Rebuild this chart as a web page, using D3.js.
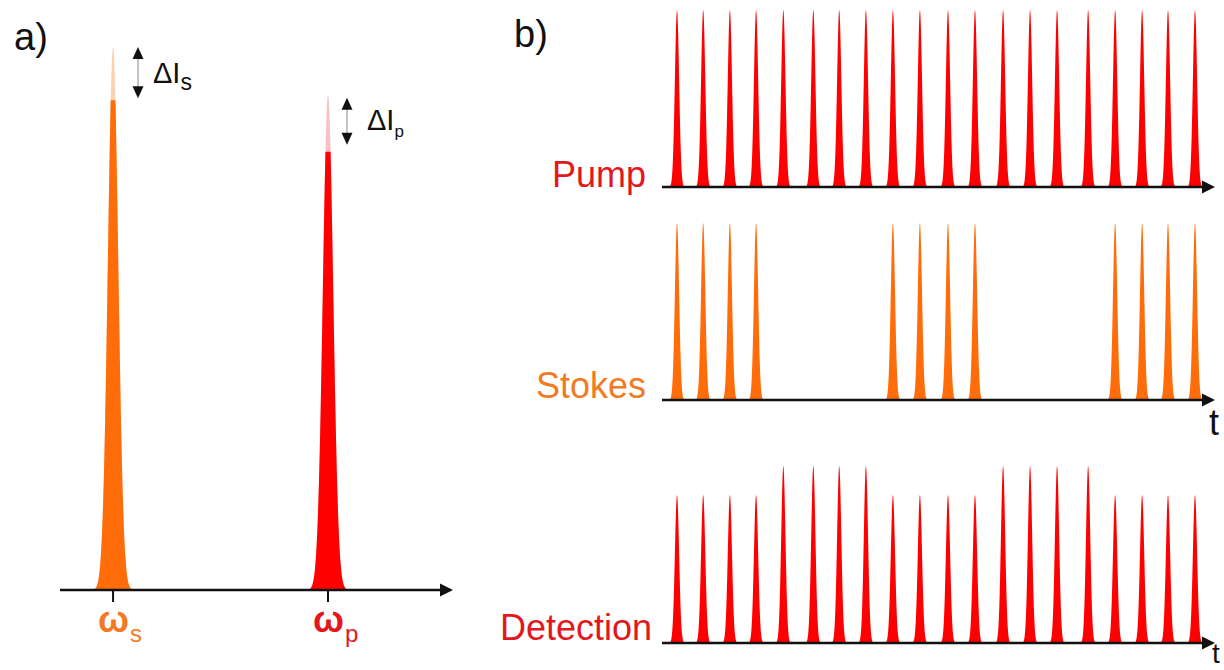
<!DOCTYPE html>
<html>
<head>
<meta charset="utf-8">
<script src="https://cdn.jsdelivr.net/npm/d3@7"></script>
<style>
  body { margin: 0; background: #fff; }
  svg { display: block; }
  text { font-family: Arial, "Liberation Sans", sans-serif; }
</style>
</head>
<body>
<svg id="chart" width="1224" height="670"></svg>
<script>
// ---------- Panel a: spectral lines (frequency domain) ----------
const lineKeys   = ["s", "p"];              // Stokes, pump
const lineFreqs  = [13.5, 68.2];            // ω_s, ω_p (arb. units)
const lineTotal  = [1.0, 0.912];            // peak intensity including ΔI
const lineSolid  = [0.902, 0.807];          // intensity without ΔI

// ---------- Panel b: pulse trains (time domain) ----------
const pulseTimes = [0, 0.96, 1.94, 2.9, 3.9, 5.0, 5.95, 6.93, 7.92, 8.91,
                    9.94, 10.93, 11.96, 12.95, 13.94, 15.08, 16.07, 17.06, 18.01, 19.0];
const pumpAmp    = [1,1,1,1, 1,1,1,1, 1,1,1,1, 1,1,1,1, 1,1,1,1];
const stokesAmp  = [1,1,1,1, 0,0,0,0, 1,1,1,1, 0,0,0,0, 1,1,1,1];
const detectAmp  = [0.836,0.836,0.836,0.836, 1,1,1,1, 0.836,0.836,0.836,0.836,
                    1,1,1,1, 0.836,0.836,0.836,0.836];
const rowLabels  = ["Pump", "Stokes", "Detection"];

const RED = "#ff0000", ORANGE = "#ff6c0a";
const RED_TXT = "#e3171d", ORANGE_TXT = "#f27a22";

const svg = d3.select("#chart");
svg.append("rect").attr("width", 1224).attr("height", 670).attr("fill", "#fff");

// Gaussian line profile drawn around a centre pixel
function profile(cx, amp, w, half, yScale) {
  const pts = d3.range(-half, half + 0.001, 0.25).map(dx => [cx + dx, amp * Math.exp(-(dx / w) * (dx / w))]);
  return d3.area().x(d => d[0]).y0(yScale(0)).y1(d => yScale(d[1]))(pts);
}

function arrowAxis(g, x0, x1, y) {
  g.append("line").attr("x1", x0).attr("x2", x1 - 10).attr("y1", y).attr("y2", y)
    .attr("stroke", "#111").attr("stroke-width", 2.5);
  g.append("path").attr("d", `M${x1},${y} L${x1 - 13},${y - 6.5} L${x1 - 13},${y + 6.5} Z`).attr("fill", "#111");
}

// ---------- panel a ----------
const ga = svg.append("g");
const xa = d3.scaleLinear().domain([0, 100]).range([60, 453]);
const ya = d3.scaleLinear().domain([0, 1]).range([590, 47]);

lineKeys.forEach((k, i) => {
  const cx = xa(lineFreqs[i]);
  const col = k === "s" ? ORANGE : RED;
  const faint = k === "s" ? "#fbd2b4" : "#f8c0c2";
  const d = profile(cx, lineTotal[i], 7.35, 24, ya);
  ga.append("path").attr("d", d).attr("fill", faint);
  const clipId = "clip-" + k;
  ga.append("clipPath").attr("id", clipId).append("rect")
    .attr("x", cx - 30).attr("width", 60)
    .attr("y", ya(lineSolid[i])).attr("height", ya(0) - ya(lineSolid[i]) + 2);
  ga.append("path").attr("d", d).attr("fill", col).attr("clip-path", `url(#${clipId})`);
});

arrowAxis(ga, 60, 453, 590);
lineKeys.forEach((k, i) => {
  const cx = xa(lineFreqs[i]);
  ga.append("line").attr("x1", cx).attr("x2", cx).attr("y1", 590).attr("y2", 602)
    .attr("stroke", "#111").attr("stroke-width", 2);
  const t = ga.append("text").attr("x", cx - 15).attr("y", 632)
    .attr("fill", k === "s" ? ORANGE_TXT : RED_TXT).attr("font-size", 36);
  t.append("tspan").attr("textLength", 31).attr("lengthAdjust", "spacingAndGlyphs")
    .attr("font-weight", "bold").text("ω");
  t.append("tspan").attr("dx", 1).attr("dy", 10).attr("font-size", 24).text(k);
});

// ΔI markers
function deltaMarker(x, yTop, yBot, sub, subSize, tx, ty) {
  ga.append("line").attr("x1", x).attr("x2", x).attr("y1", yTop + 8).attr("y2", yBot - 8)
    .attr("stroke", "#888").attr("stroke-width", 1);
  ga.append("path").attr("d", `M${x},${yTop} L${x - 5.5},${yTop + 12} L${x + 5.5},${yTop + 12} Z`).attr("fill", "#111");
  ga.append("path").attr("d", `M${x},${yBot} L${x - 5.5},${yBot - 12} L${x + 5.5},${yBot - 12} Z`).attr("fill", "#111");
  const t = ga.append("text").attr("x", tx).attr("y", ty).attr("font-size", 29).attr("fill", "#111").text("ΔI");
  t.append("tspan").attr("dy", 7).attr("font-size", subSize).text(sub);
}
deltaMarker(138, ya(lineTotal[0]), ya(lineSolid[0]) - 2, "s", 23, 153, 83);
deltaMarker(347, ya(lineTotal[1]) + 3, ya(lineSolid[1]) - 7, "p", 17, 367, 130);

svg.append("text").attr("x", 14).attr("y", 50).attr("font-size", 38).attr("fill", "#111").text("a)");
svg.append("text").attr("x", 514).attr("y", 47).attr("font-size", 38).attr("fill", "#111").text("b)");

// ---------- panel b ----------
const gb = svg.append("g");
const xb = d3.scaleLinear().domain([0, 19]).range([677, 1195]);
const rows = [
  { amp: pumpAmp,   base: 187, col: RED,    txt: RED_TXT,    labelX: 646, labelY: 187 },
  { amp: stokesAmp, base: 400, col: ORANGE, txt: ORANGE_TXT, labelX: 646, labelY: 398 },
  { amp: detectAmp, base: 643, col: RED,    txt: RED_TXT,    labelX: 652, labelY: 640 }
];
rows.forEach((r, ri) => {
  const yb = d3.scaleLinear().domain([0, 1]).range([r.base, r.base - 177]);
  pulseTimes.forEach((t, i) => {
    if (r.amp[i] <= 0) return;
    gb.append("path").attr("d", profile(xb(t), r.amp[i], 3.0, 8, yb)).attr("fill", r.col);
  });
  arrowAxis(gb, 662, 1215, r.base);
  gb.append("text").attr("x", r.labelX).attr("y", r.labelY).attr("text-anchor", "end")
    .attr("font-size", 36).attr("fill", r.txt).text(rowLabels[ri]);
});
// time-axis labels
gb.append("text").attr("x", 1214).attr("y", 435).attr("text-anchor", "middle").attr("font-size", 36).attr("fill", "#111").text("t");
gb.append("text").attr("x", 1216).attr("y", 663).attr("text-anchor", "middle").attr("font-size", 28).attr("fill", "#111").text("t");
</script>
</body>
</html>
